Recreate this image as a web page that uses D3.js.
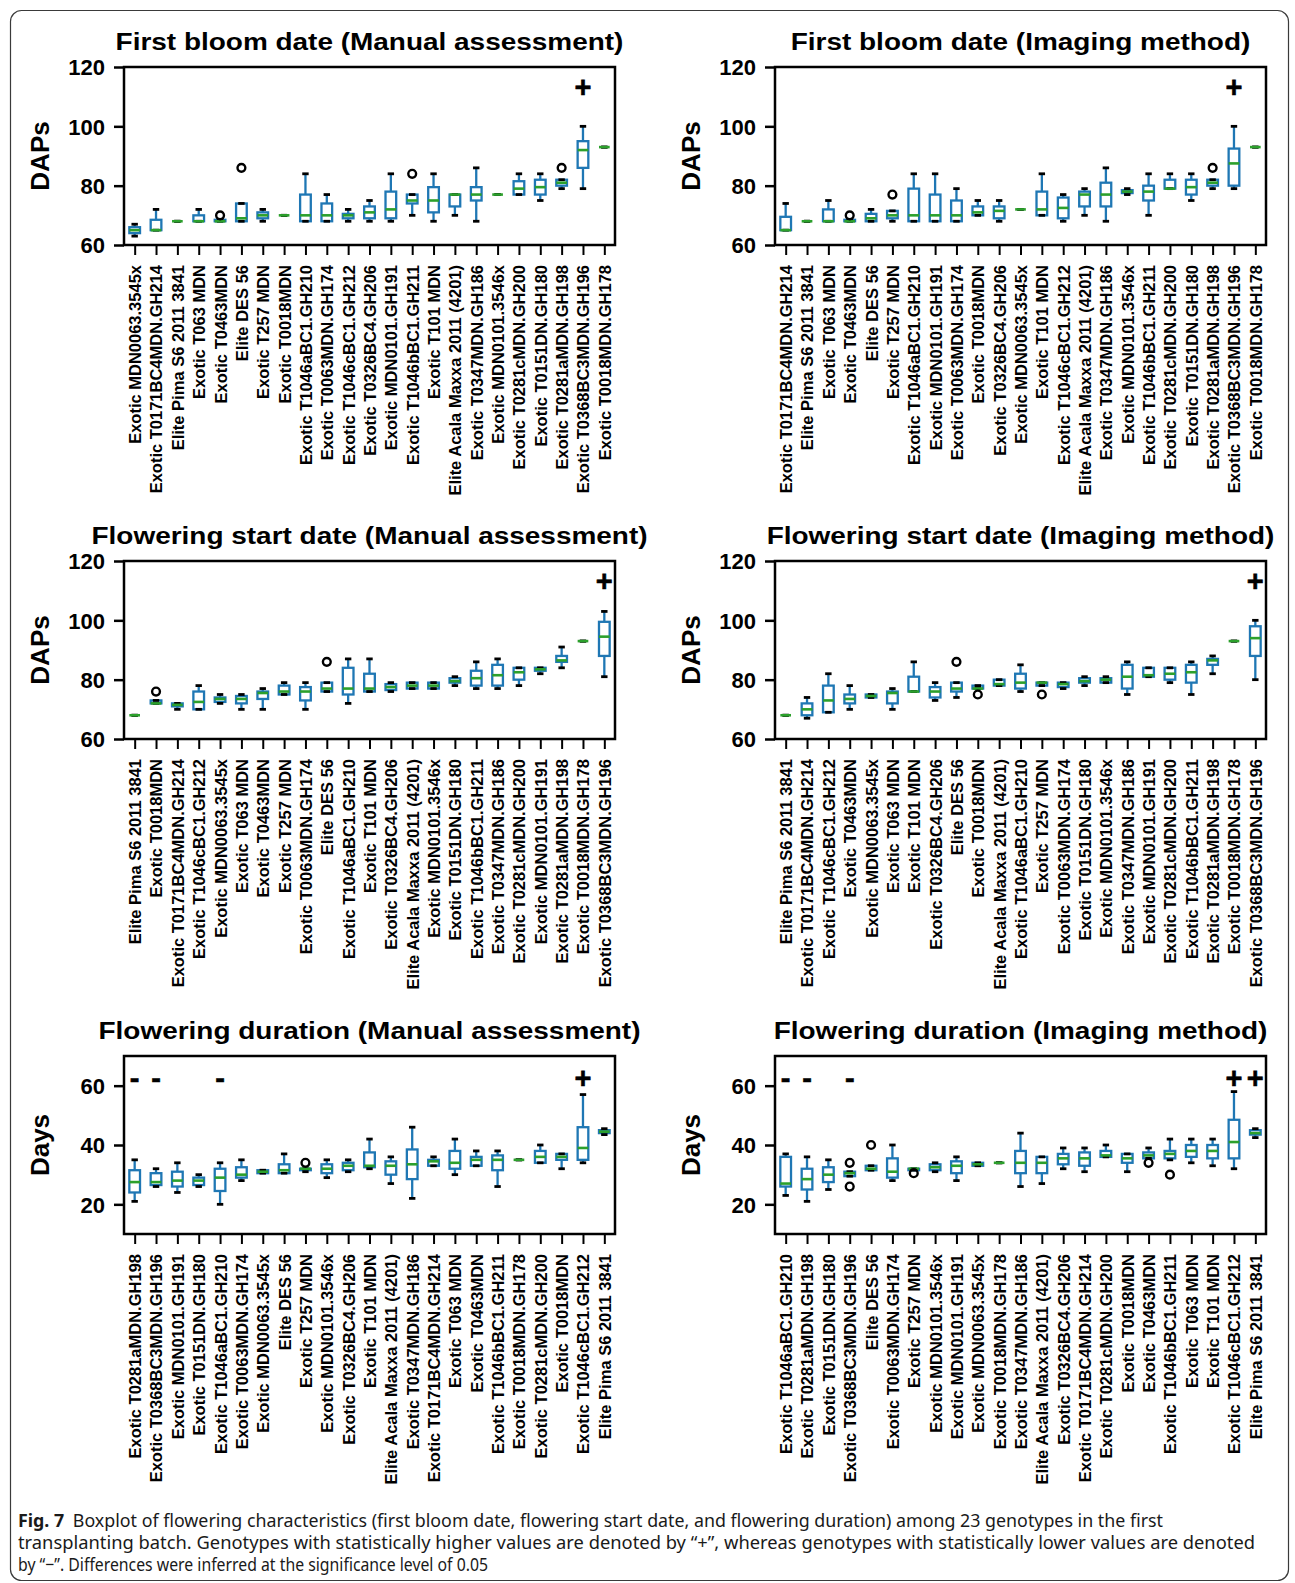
<!DOCTYPE html>
<html>
<head>
<meta charset="utf-8">
<script src="https://cdn.jsdelivr.net/npm/d3@7"></script>
<style>
  body { margin: 0; background: #fff; }
  svg text { font-family: 'Liberation Sans', Arial, Helvetica, sans-serif; }
  .boldText { font-weight: bold; }
  .caption { font-family: 'Noto Sans', 'Open Sans', sans-serif; font-size: 18.5px; fill: #1a1a1a; }
</style>
</head>
<body>
<div id="figure"></div>
<script>

// ---- data: genotypes in plotted order, stats = [low whisker, q1, median, q3, high whisker]

const bloomManualGenotypes = ['Exotic MDN0063.3545x', 'Exotic T0171BC4MDN.GH214', 'Elite Pima S6 2011 3841', 'Exotic T063 MDN',
  'Exotic T0463MDN', 'Elite DES 56', 'Exotic T257 MDN', 'Exotic T0018MDN', 'Exotic T1046aBC1.GH210', 'Exotic T0063MDN.GH174',
  'Exotic T1046cBC1.GH212', 'Exotic T0326BC4.GH206', 'Exotic MDN0101.GH191', 'Exotic T1046bBC1.GH211', 'Exotic T101 MDN',
  'Elite Acala Maxxa 2011 (4201)', 'Exotic T0347MDN.GH186', 'Exotic MDN0101.3546x', 'Exotic T0281cMDN.GH200',
  'Exotic T0151DN.GH180', 'Exotic T0281aMDN.GH198', 'Exotic T0368BC3MDN.GH196', 'Exotic T0018MDN.GH178'];
const bloomManualStats = [[63, 64, 65, 66, 67], [65, 65, 65, 68.5, 72], [68, 68, 68, 68, 68], [68, 68, 68, 70, 72],
  [68, 68, 68, 68.5, 68.5], [68, 68, 69, 74, 74], [68, 69, 70, 71, 72], [70, 70, 70, 70, 70], [68, 68, 70, 77, 84],
  [68, 68, 70, 74, 77], [68, 69, 70, 70.5, 72], [68, 69, 71, 73, 75], [68, 69, 72, 78, 84], [70, 74, 75, 77, 77],
  [68, 71, 75, 79.5, 84], [70, 73, 77, 77, 77], [68, 75, 77, 79.5, 86], [77, 77, 77, 77, 77], [77, 77, 79, 81.5, 84],
  [75, 77, 79.5, 82, 84], [79, 80, 81, 82, 82], [79, 86, 92, 95, 100], [93, 93, 93, 93, 93]];
const bloomManualOutliers = [['Exotic T0463MDN', 70], ['Elite DES 56', 86], ['Exotic T1046bBC1.GH211', 84], ['Exotic T0281aMDN.GH198', 86]];
const bloomManualMarks = [['Exotic T0368BC3MDN.GH196', '+']];

const bloomImagingGenotypes = ['Exotic T0171BC4MDN.GH214', 'Elite Pima S6 2011 3841', 'Exotic T063 MDN', 'Exotic T0463MDN',
  'Elite DES 56', 'Exotic T257 MDN', 'Exotic T1046aBC1.GH210', 'Exotic MDN0101.GH191', 'Exotic T0063MDN.GH174',
  'Exotic T0018MDN', 'Exotic T0326BC4.GH206', 'Exotic MDN0063.3545x', 'Exotic T101 MDN', 'Exotic T1046cBC1.GH212',
  'Elite Acala Maxxa 2011 (4201)', 'Exotic T0347MDN.GH186', 'Exotic MDN0101.3546x', 'Exotic T1046bBC1.GH211',
  'Exotic T0281cMDN.GH200', 'Exotic T0151DN.GH180', 'Exotic T0281aMDN.GH198', 'Exotic T0368BC3MDN.GH196', 'Exotic T0018MDN.GH178'];
const bloomImagingStats = [[65, 65, 65, 69.5, 74], [68, 68, 68, 68, 68], [68, 68, 68, 72, 75], [68, 68, 68, 68.5, 68.5],
  [68, 68, 69, 70.5, 72], [68, 69, 70, 71.5, 71.5], [68, 68, 70, 79, 84], [68, 68, 70, 77, 84], [68, 68, 70, 75, 79],
  [70, 70, 71, 73, 75], [68, 69, 71.5, 73, 75], [72, 72, 72, 72, 72], [70, 70, 72, 78, 84], [68, 69, 72.5, 76, 77],
  [70, 73, 77, 78, 79], [68, 73, 77, 81, 86], [77, 77.5, 78, 78.5, 79], [70, 75, 78, 80, 84], [79, 79, 79, 82, 84],
  [75, 77, 79.5, 82, 84], [79, 80, 81, 82, 82], [79, 80, 87.5, 92.5, 100], [93, 93, 93, 93, 93]];
const bloomImagingOutliers = [['Exotic T0463MDN', 70], ['Exotic T257 MDN', 77], ['Exotic T0281aMDN.GH198', 86]];
const bloomImagingMarks = [['Exotic T0368BC3MDN.GH196', '+']];

const startManualGenotypes = ['Elite Pima S6 2011 3841', 'Exotic T0018MDN', 'Exotic T0171BC4MDN.GH214', 'Exotic T1046cBC1.GH212',
  'Exotic MDN0063.3545x', 'Exotic T063 MDN', 'Exotic T0463MDN', 'Exotic T257 MDN', 'Exotic T0063MDN.GH174', 'Elite DES 56',
  'Exotic T1046aBC1.GH210', 'Exotic T101 MDN', 'Exotic T0326BC4.GH206', 'Elite Acala Maxxa 2011 (4201)', 'Exotic MDN0101.3546x',
  'Exotic T0151DN.GH180', 'Exotic T1046bBC1.GH211', 'Exotic T0347MDN.GH186', 'Exotic T0281cMDN.GH200', 'Exotic MDN0101.GH191',
  'Exotic T0281aMDN.GH198', 'Exotic T0018MDN.GH178', 'Exotic T0368BC3MDN.GH196'];
const startManualStats = [[68, 68, 68, 68, 68], [72, 72, 72, 73, 73], [70, 71, 71.5, 72, 72], [70, 70, 72.5, 76, 78],
  [72, 72.5, 73.5, 74, 75], [70, 72, 73.5, 74.5, 75], [70, 73.5, 75.5, 76, 77], [75, 75, 76, 78, 79], [70, 73, 76, 77.5, 79],
  [76, 76, 77, 79, 79], [72, 75, 77, 84, 87], [76, 76, 77, 82, 87], [76, 76.5, 77.5, 78.5, 79], [77, 77, 78, 79, 79],
  [77, 77, 78, 79, 79], [78, 79, 79.5, 80.5, 81], [77, 78, 80.5, 83, 86], [77, 78, 81.5, 85, 87], [78, 80, 82.5, 84, 84],
  [82, 83, 83.5, 84, 84], [84, 86, 86.5, 88, 91], [93, 93, 93, 93, 93], [81, 88, 94.5, 99.5, 103]];
const startManualOutliers = [['Exotic T0018MDN', 76], ['Elite DES 56', 86]];
const startManualMarks = [['Exotic T0368BC3MDN.GH196', '+']];

const startImagingGenotypes = ['Elite Pima S6 2011 3841', 'Exotic T0171BC4MDN.GH214', 'Exotic T1046cBC1.GH212', 'Exotic T0463MDN',
  'Exotic MDN0063.3545x', 'Exotic T063 MDN', 'Exotic T101 MDN', 'Exotic T0326BC4.GH206', 'Elite DES 56', 'Exotic T0018MDN',
  'Elite Acala Maxxa 2011 (4201)', 'Exotic T1046aBC1.GH210', 'Exotic T257 MDN', 'Exotic T0063MDN.GH174', 'Exotic T0151DN.GH180',
  'Exotic MDN0101.3546x', 'Exotic T0347MDN.GH186', 'Exotic MDN0101.GH191', 'Exotic T0281cMDN.GH200', 'Exotic T1046bBC1.GH211',
  'Exotic T0281aMDN.GH198', 'Exotic T0018MDN.GH178', 'Exotic T0368BC3MDN.GH196'];
const startImagingStats = [[68, 68, 68, 68, 68], [67, 68, 70, 72, 74], [69, 69, 73, 78, 82], [70, 72, 73.5, 75, 78],
  [74, 74, 74.5, 75, 75], [70, 72, 75.5, 76, 77], [76, 76, 76, 81, 86], [73, 74, 76, 77.5, 79], [74, 76, 77, 79, 79],
  [77, 77, 77, 78, 78], [78, 78, 78.5, 80, 80], [76, 77, 79, 82, 85], [78, 78, 79, 79, 79], [77, 77.5, 78.5, 79, 79],
  [78, 79, 79.5, 80.5, 81], [79, 79, 80, 80.5, 81], [75, 77, 81, 85, 86], [81, 81, 81.5, 84, 84], [79, 80, 82, 84, 84],
  [75, 79, 82.5, 85, 86], [82, 85, 86.5, 87, 88], [93, 93, 93, 93, 93], [80, 88, 94, 98, 100]];
const startImagingOutliers = [['Elite DES 56', 86], ['Exotic T0018MDN', 75], ['Exotic T257 MDN', 75]];
const startImagingMarks = [['Exotic T0368BC3MDN.GH196', '+']];

const durationManualGenotypes = ['Exotic T0281aMDN.GH198', 'Exotic T0368BC3MDN.GH196', 'Exotic MDN0101.GH191', 'Exotic T0151DN.GH180',
  'Exotic T1046aBC1.GH210', 'Exotic T0063MDN.GH174', 'Exotic MDN0063.3545x', 'Elite DES 56', 'Exotic T257 MDN',
  'Exotic MDN0101.3546x', 'Exotic T0326BC4.GH206', 'Exotic T101 MDN', 'Elite Acala Maxxa 2011 (4201)', 'Exotic T0347MDN.GH186',
  'Exotic T0171BC4MDN.GH214', 'Exotic T063 MDN', 'Exotic T0463MDN', 'Exotic T1046bBC1.GH211', 'Exotic T0018MDN.GH178',
  'Exotic T0281cMDN.GH200', 'Exotic T0018MDN', 'Exotic T1046cBC1.GH212', 'Elite Pima S6 2011 3841'];
const durationManualStats = [[21, 24, 27.5, 31.5, 35], [26, 26.5, 27.5, 30.5, 32], [24, 26, 28, 31, 34], [26, 26.5, 28, 29, 30],
  [20, 24.5, 29, 32, 34], [28, 29, 30, 32.5, 35], [30.5, 30.5, 31, 31.5, 31.5], [30.5, 30.5, 31.5, 33.5, 37], [31, 31.5, 32, 32, 32],
  [29, 30.5, 32, 33.5, 35], [31, 31.5, 33, 34, 35], [32, 32.5, 33, 37.5, 42], [27, 30, 33, 34.5, 36], [22, 28.5, 33.5, 38.5, 46],
  [33, 33, 34.5, 35, 36], [30, 32, 34, 38, 42], [33, 33, 35, 36, 38], [26, 31.5, 35, 36.5, 38], [35, 35, 35, 35, 35],
  [34, 34, 36, 38, 40], [32, 35, 36, 37, 37], [34, 35, 39, 46, 57], [43.5, 44, 44.5, 45, 45.5]];
const durationManualOutliers = [['Exotic T257 MDN', 34]];
const durationManualMarks = [['Exotic T0281aMDN.GH198', '-'], ['Exotic T0368BC3MDN.GH196', '-'], ['Exotic T1046aBC1.GH210', '-'],
  ['Exotic T1046cBC1.GH212', '+']];

const durationImagingGenotypes = ['Exotic T1046aBC1.GH210', 'Exotic T0281aMDN.GH198', 'Exotic T0151DN.GH180', 'Exotic T0368BC3MDN.GH196',
  'Elite DES 56', 'Exotic T0063MDN.GH174', 'Exotic T257 MDN', 'Exotic MDN0101.3546x', 'Exotic MDN0101.GH191', 'Exotic MDN0063.3545x',
  'Exotic T0018MDN.GH178', 'Exotic T0347MDN.GH186', 'Elite Acala Maxxa 2011 (4201)', 'Exotic T0326BC4.GH206',
  'Exotic T0171BC4MDN.GH214', 'Exotic T0281cMDN.GH200', 'Exotic T0018MDN', 'Exotic T0463MDN', 'Exotic T1046bBC1.GH211',
  'Exotic T063 MDN', 'Exotic T101 MDN', 'Exotic T1046cBC1.GH212', 'Elite Pima S6 2011 3841'];
const durationImagingStats = [[23, 26, 27, 36, 37], [21, 25, 28.5, 32, 36], [25, 27.5, 30, 32.5, 35], [29.5, 29.5, 30.5, 31, 31],
  [31.5, 31.5, 32, 33, 33], [28, 29, 31, 35.5, 40], [31.5, 31.5, 32, 32, 32], [31, 31.5, 32.5, 33.5, 34], [28, 30.5, 33, 34.5, 36],
  [33, 33, 33.5, 34, 34], [34, 34, 34, 34, 34], [26, 30.5, 34, 38, 44], [27, 30.5, 34, 36, 36], [32, 33.5, 35.5, 37, 39],
  [31, 33, 35.5, 37.5, 39], [36, 36, 36.5, 38, 40], [31, 34, 35.5, 37, 37], [35.5, 35.5, 36.5, 37.5, 39], [35, 35.5, 37, 38, 42],
  [34, 36, 38, 40, 42], [33, 35.5, 38, 40, 42], [32, 35.5, 41, 48.5, 58], [42.5, 43.5, 44, 45, 45.5]];
const durationImagingOutliers = [['Exotic T0368BC3MDN.GH196', 34], ['Exotic T0368BC3MDN.GH196', 26], ['Elite DES 56', 40],
  ['Exotic T257 MDN', 30.5], ['Exotic T0463MDN', 34], ['Exotic T1046bBC1.GH211', 30]];
const durationImagingMarks = [['Exotic T1046aBC1.GH210', '-'], ['Exotic T0281aMDN.GH198', '-'], ['Exotic T0368BC3MDN.GH196', '-'],
  ['Exotic T1046cBC1.GH212', '+'], ['Elite Pima S6 2011 3841', '+']];

const dapsTicks = [60, 80, 100, 120];
const daysTicks = [20, 40, 60];

const captionLines = [
  'Boxplot of flowering characteristics (first bloom date, flowering start date, and flowering duration) among 23 genotypes in the first',
  'transplanting batch. Genotypes with statistically higher values are denoted by \u201C+\u201D, whereas genotypes with statistically lower values are denoted',
  'by \u201C\u2212\u201D. Differences were inferred at the significance level of 0.05'
];

const panels = [
  {col: 0, row: 0, title: 'First bloom date (Manual assessment)', label: 'DAPs', domain: [60, 120], ticks: dapsTicks, markLevel: 113,
    genotypes: bloomManualGenotypes, stats: bloomManualStats, outliers: bloomManualOutliers, marks: bloomManualMarks},
  {col: 1, row: 0, title: 'First bloom date (Imaging method)', label: 'DAPs', domain: [60, 120], ticks: dapsTicks, markLevel: 113,
    genotypes: bloomImagingGenotypes, stats: bloomImagingStats, outliers: bloomImagingOutliers, marks: bloomImagingMarks},
  {col: 0, row: 1, title: 'Flowering start date (Manual assessment)', label: 'DAPs', domain: [60, 120], ticks: dapsTicks, markLevel: 113,
    genotypes: startManualGenotypes, stats: startManualStats, outliers: startManualOutliers, marks: startManualMarks},
  {col: 1, row: 1, title: 'Flowering start date (Imaging method)', label: 'DAPs', domain: [60, 120], ticks: dapsTicks, markLevel: 113,
    genotypes: startImagingGenotypes, stats: startImagingStats, outliers: startImagingOutliers, marks: startImagingMarks},
  {col: 0, row: 2, title: 'Flowering duration (Manual assessment)', label: 'Days', domain: [10, 70], ticks: daysTicks, markLevel: 62.5,
    genotypes: durationManualGenotypes, stats: durationManualStats, outliers: durationManualOutliers, marks: durationManualMarks},
  {col: 1, row: 2, title: 'Flowering duration (Imaging method)', label: 'Days', domain: [10, 70], ticks: daysTicks, markLevel: 62.5,
    genotypes: durationImagingGenotypes, stats: durationImagingStats, outliers: durationImagingOutliers, marks: durationImagingMarks}
];

// ---- drawing

const svgSize = {width: 1295, height: 1583};
const layout = {colX: [124, 775], rowY: [67, 561, 1056], width: 491, height: 178};
const colors = {box: '#1f77b4', median: '#2ca02c', ink: '#000'};

const svg = d3.select('#figure').append('svg')
  .attr('width', svgSize.width)
  .attr('height', svgSize.height);

svg.append('rect').attr('width', svgSize.width).attr('height', svgSize.height).attr('fill', '#fff');
svg.append('rect')
  .attr('x', 10.5).attr('y', 10.5)
  .attr('width', 1278).attr('height', 1570)
  .attr('rx', 11)
  .attr('fill', 'none')
  .attr('stroke', '#3a3a3a')
  .attr('stroke-width', 1.2);

BoxPanel = {

  draw: function(p) {
    this.p = p;
    this.g = svg.append('g')
      .attr('transform', `translate(${layout.colX[p.col]}, ${layout.rowY[p.row]})`);
    this.createScales();
    this.drawTitle();
    this.drawAxes();
    this.drawBoxes();
    this.drawFliers();
    this.drawMarks();
    this.drawFrame();
  },

  createScales: function() {
    this.x = d3.scalePoint().domain(this.p.genotypes).range([0, layout.width]).padding(0.5);
    this.y = d3.scaleLinear().domain(this.p.domain).range([layout.height, 0]);
  },

  drawTitle: function() {
    this.g.append('text')
      .attr('class', 'boldText')
      .attr('transform', `translate(${layout.width / 2}, -17) scale(1.19, 1)`)
      .attr('text-anchor', 'middle')
      .attr('font-size', 23.5)
      .text(this.p.title);

    this.g.append('text')
      .attr('class', 'boldText')
      .attr('transform', `translate(-84, ${layout.height / 2}) rotate(-90)`)
      .attr('text-anchor', 'middle')
      .attr('dy', '0.36em')
      .attr('font-size', 26)
      .text(this.p.label);
  },

  drawAxes: function() {
    const yAxis = d3.axisLeft(this.y).tickValues(this.p.ticks).tickSize(10).tickPadding(9);
    const yg = this.g.append('g').call(yAxis)
      .attr('font-family', null).attr('font-size', null);
    yg.select('.domain').remove();
    yg.selectAll('line').attr('stroke-width', 2.5);
    yg.selectAll('text').attr('class', 'boldText').attr('font-size', 22).attr('dy', '0.36em');

    const xAxis = d3.axisBottom(this.x).tickSize(10);
    const xg = this.g.append('g')
      .attr('transform', `translate(0, ${layout.height})`)
      .call(xAxis)
      .attr('font-family', null).attr('font-size', null);
    xg.select('.domain').remove();
    xg.selectAll('line').attr('stroke-width', 2);
    xg.selectAll('text')
      .attr('class', 'boldText')
      .attr('font-size', 16.5)
      .attr('x', 0).attr('y', 0)
      .attr('dy', '0.36em')
      .attr('transform', 'translate(0, 20) rotate(-90)')
      .style('text-anchor', 'end');
  },

  drawBoxes: function() {
    const x = this.x, y = this.y;
    const bw = x.step() * 0.5, cw = x.step() * 0.3;
    const rows = this.p.genotypes.map((name, i) => ({name: name, s: this.p.stats[i]}));

    const boxes = this.g.selectAll('.box')
      .data(rows)
      .enter()
      .append('g')
      .attr('class', 'box')
      .attr('transform', (d) => `translate(${x(d.name)}, 0)`);

    boxes.append('rect')
      .attr('x', -bw / 2)
      .attr('width', bw)
      .attr('y', (d) => y(d.s[3]))
      .attr('height', (d) => y(d.s[1]) - y(d.s[3]))
      .attr('fill', 'none')
      .attr('stroke', colors.box)
      .attr('stroke-width', 2.3);

    [[3, 4], [1, 0]].forEach((pair) => {
      boxes.append('line')
        .attr('y1', (d) => y(d.s[pair[0]]))
        .attr('y2', (d) => y(d.s[pair[1]]))
        .attr('stroke', colors.box)
        .attr('stroke-width', 2.3);
    });

    [0, 4].forEach((k) => {
      boxes.append('line')
        .attr('x1', -cw / 2).attr('x2', cw / 2)
        .attr('y1', (d) => y(d.s[k])).attr('y2', (d) => y(d.s[k]))
        .attr('stroke', colors.ink)
        .attr('stroke-width', 2.8);
    });

    boxes.append('line')
      .attr('x1', -bw / 2).attr('x2', bw / 2)
      .attr('y1', (d) => y(d.s[2])).attr('y2', (d) => y(d.s[2]))
      .attr('stroke', colors.median)
      .attr('stroke-width', 2.6);
  },

  drawFliers: function() {
    this.g.selectAll('.flier')
      .data(this.p.outliers)
      .enter()
      .append('circle')
      .attr('class', 'flier')
      .attr('cx', (d) => this.x(d[0]))
      .attr('cy', (d) => this.y(d[1]))
      .attr('r', 3.9)
      .attr('fill', 'none')
      .attr('stroke', colors.ink)
      .attr('stroke-width', 2.4);
  },

  drawMarks: function() {
    this.g.selectAll('.mark')
      .data(this.p.marks)
      .enter()
      .append('text')
      .attr('class', 'boldText')
      .attr('x', (d) => this.x(d[0]))
      .attr('y', this.y(this.p.markLevel))
      .attr('dy', '0.33em')
      .attr('text-anchor', 'middle')
      .attr('font-size', 29)
      .attr('stroke', colors.ink)
      .attr('stroke-width', 0.6)
      .text((d) => d[1]);
  },

  drawFrame: function() {
    this.g.append('rect')
      .attr('width', layout.width)
      .attr('height', layout.height)
      .attr('fill', 'none')
      .attr('stroke', colors.ink)
      .attr('stroke-width', 2.5);
  }
};

panels.forEach((p) => BoxPanel.draw(p));

// caption
const captionY = [1527, 1549, 1571];
const captionWidths = [1145, 1237, 470];
captionLines.forEach((line, i) => {
  const t = svg.append('text')
    .attr('class', 'caption')
    .attr('x', 18)
    .attr('y', captionY[i])
    .attr('textLength', captionWidths[i])
    .attr('lengthAdjust', 'spacingAndGlyphs');
  if (i === 0) {
    t.append('tspan').attr('font-weight', 'bold').text('Fig. 7');
    t.append('tspan').attr('dx', 9).text(line);
  } else {
    t.text(line);
  }
});

</script>
</body>
</html>
